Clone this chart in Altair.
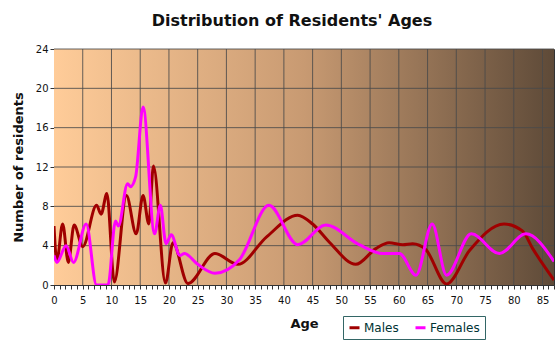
import altair as alt
import pandas as pd

# Males: ages and number of residents
ages_m = [0, 0.5, 1.5, 2.5, 3.5, 5, 7.4, 8.2, 9.2, 10.5, 12.6, 14.3, 15.5, 16.5, 17.3,
          19.4, 20.7, 23.3, 28, 32, 37, 42.4, 45, 48, 52.5, 56, 58.3, 60.7, 62.4, 64.7,
          68.3, 72.3, 78.3, 81.5, 83.3, 87]
vals_m = [6, 2.4, 6.2, 2.3, 6.1, 3.9, 8.1, 7.2, 9.3, 0.3, 9.1, 5.2, 9.1, 6.2, 12.1,
          0.2, 4.3, 0.15, 3.2, 2.1, 4.9, 7.1, 6.2, 4.3, 2.1, 3.7, 4.3, 4.1, 4.2, 3.6,
          0.1, 3.5, 6.2, 5.5, 3.7, 0.5]

# Females
ages_f = [0, 0.5, 2.1, 3.4, 5.6, 7.4, 9.4, 10.7, 11.2, 12.8, 13.3, 14.2, 15.5, 17.5,
          18.5, 19.5, 20.4, 21.9, 22.7, 25, 28, 32.3, 37.4, 42.4, 47.3, 53.1, 57.2,
          60.1, 63, 65.8, 68.3, 72.6, 77.5, 82.1, 87]
vals_f = [3, 2.3, 4.0, 2.3, 6.2, 0, 0, 6.5, 6.0, 10.3, 10.0, 11, 18.1, 5.2,
          8.1, 4.2, 5.1, 3.0, 3.2, 2.1, 1.2, 2.6, 8.1, 4.1, 6.1, 4.1, 3.2,
          3.2, 1.0, 6.2, 1.0, 5.2, 3.2, 5.2, 2.4]

series = ["Males", "Females"]
colors = ["#a00000", "#ff00ff"]

x_ticks = list(range(0, 88))
x_major = list(range(0, 90, 5))
y_ticks = [0, 4, 8, 12, 16, 20, 24]

df = pd.concat([
    pd.DataFrame({"Age": ages_m, "Count": vals_m, "Sex": "Males"}),
    pd.DataFrame({"Age": ages_f, "Count": vals_f, "Sex": "Females"}),
])

W, H = 500, 236
FONT = "DejaVu Sans"

x_scale = alt.Scale(domain=[0, 87], nice=False, zero=False)
y_scale = alt.Scale(domain=[0, 24], nice=False)

x_axis = alt.Axis(values=x_ticks, grid=False,
                  labelExpr="datum.value % 5 === 0 ? datum.label : ''",
                  labelOverlap=False, labelFlush=False,
                  tickSize=4, labelPadding=6)
y_axis = alt.Axis(values=y_ticks, grid=False, tickSize=4, labelPadding=2)

bg = alt.Chart(pd.DataFrame({"a": [0]})).mark_rect(
    fill=alt.Gradient(
        gradient="linear", x1=0, x2=1, y1=0, y2=0,
        stops=[
            alt.GradientStop(color="#ffcc99", offset=0),
            alt.GradientStop(color="#c89a72", offset=0.5),
            alt.GradientStop(color="#5e4a38", offset=1),
        ],
    )
).encode(x=alt.value(0), x2=alt.value(W), y=alt.value(0), y2=alt.value(H))

vgrid = alt.Chart(pd.DataFrame({"g": x_major[1:]})).mark_rule(
    color="#4a4a4a", strokeWidth=1, opacity=0.85
).encode(x=alt.X("g:Q", scale=x_scale, axis=x_axis, title="Age"),
         y=alt.value(0), y2=alt.value(H))

hgrid = alt.Chart(pd.DataFrame({"g": y_ticks[1:]})).mark_rule(
    color="#4a4a4a", strokeWidth=1, opacity=0.85
).encode(y=alt.Y("g:Q", scale=y_scale, axis=y_axis, title="Number of residents"),
         x=alt.value(0), x2=alt.value(W))

lines = alt.Chart(df).mark_line(
    interpolate="monotone", strokeWidth=3, clip=True
).encode(
    x=alt.X("Age:Q", scale=x_scale, title="Age", axis=x_axis),
    y=alt.Y("Count:Q", scale=y_scale, title="Number of residents", axis=y_axis),
    color=alt.Color("Sex:N", scale=alt.Scale(domain=series, range=colors),
                    sort=series,
                    legend=alt.Legend(title=None, orient="none", direction="horizontal",
                                      legendX=289, legendY=267, symbolType="stroke",
                                      symbolStrokeWidth=3, symbolSize=100,
                                      labelFontSize=12, labelFont=FONT, labelColor="#003333",
                                      strokeColor="#336666", padding=5,
                                      columnPadding=10, labelLimit=200, labelOffset=3)),
)

chart = alt.layer(bg, vgrid, hgrid, lines).properties(
    width=W, height=H,
    title=alt.TitleParams("Distribution of Residents' Ages", fontSize=16, font=FONT,
                          fontWeight="bold", color="#111", anchor="middle", offset=15,
                          dx=-12),
    autosize=alt.AutoSizeParams(type="none"),
    padding={"left": 54, "top": 49, "right": 6, "bottom": 68},
    background="white",
).configure_view(stroke="#333", strokeWidth=1).configure_axis(
    domainColor="#333", tickColor="#333",
    labelFont=FONT, labelFontSize=10, labelColor="#111",
    titleFont=FONT, titleFontSize=13, titleFontWeight="bold", titleColor="#111",
).configure_axisY(titlePadding=10).configure_axisX(titlePadding=12)

chart.save("out.html", embed_options={"renderer": "svg", "actions": False})
